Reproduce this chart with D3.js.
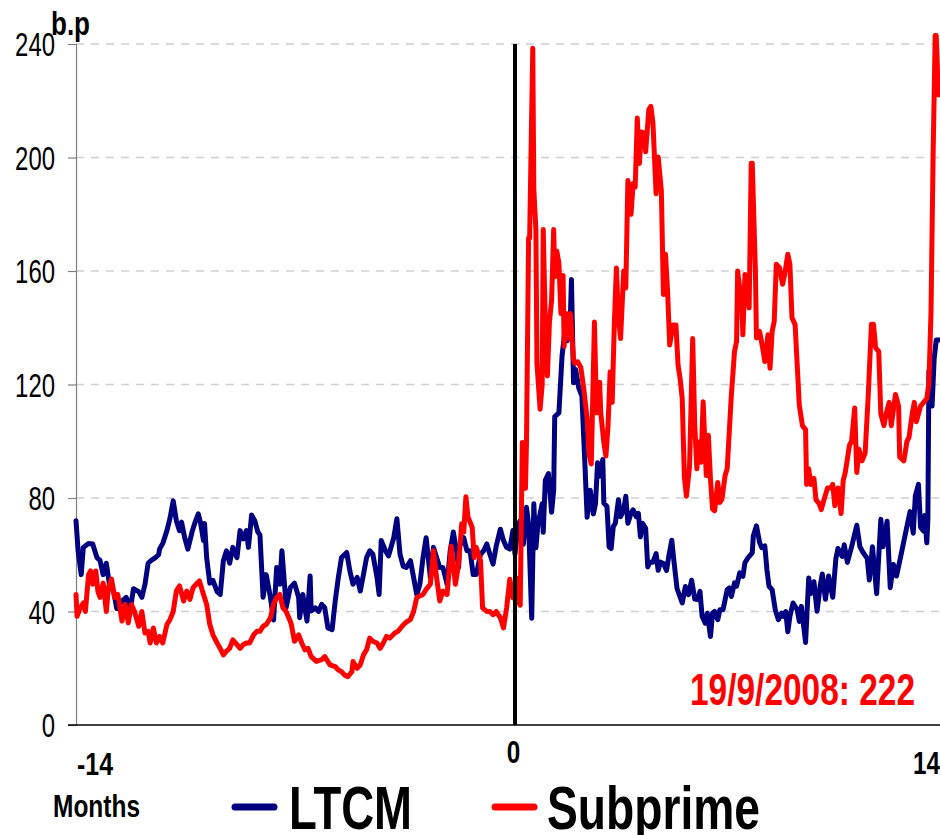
<!DOCTYPE html>
<html>
<head>
<meta charset="utf-8">
<script src="https://cdn.jsdelivr.net/npm/d3@7"></script>
<style>
  html, body { margin: 0; padding: 0; background: #fff; }
  svg { display: block; }
  text { font-family: "Liberation Sans", Arial, "DejaVu Sans", sans-serif; }
</style>
</head>
<body>
<svg id="chart" width="940" height="835"></svg>
<script>
// ---- data (days relative to event, 30-day months) ----
const xTickMonths = [-14, 0, 14];
const yTicks = [0, 40, 80, 120, 160, 200, 240];
const seriesNames = ["LTCM", "Subprime"];

const ltcmDays = [-420,-418,-415,-413,-408,-404,-400,-397,-394,-391,-388,-384,-381,-376,-372,-368,-365,-360,-357,-354,-351,-348,-344,-341,-340,-337,-333,-330,-327,-324,-321,-319,-316,-313,-309,-306,-303,-301,-298,-297,-295,-292,-289,-285,-282,-279,-276,-273,-270,-266,-263,-260,-257,-255,-252,-249,-246,-244,-241,-238,-234,-231,-228,-225,-223,-220,-219,-215,-211,-207,-206,-203,-199,-196,-195,-191,-188,-185,-182,-179,-175,-172,-169,-166,-161,-158,-155,-151,-148,-145,-142,-139,-136,-132,-130,-128,-124,-121,-116,-113,-110,-107,-104,-100,-97,-94,-91,-88,-85,-81,-78,-75,-72,-69,-65,-62,-59,-56,-54,-53,-49,-46,-43,-40,-37,-33,-30,-27,-24,-21,-18,-14,-11,-8,-5,-2,0,3,5,8,11,13,16,18,20,22,26,27,29,32,35,37,38,42,45,48,50,53,54,56,58,61,64,67,69,72,75,77,79,81,84,85,88,90,92,94,96,99,101,104,106,108,111,113,116,118,120,122,125,127,129,132,135,137,139,142,145,147,150,152,155,160,163,166,169,172,175,177,179,182,184,187,189,191,194,196,199,203,205,207,210,212,215,218,220,223,227,228,231,234,236,239,241,243,246,249,252,255,257,259,261,263,266,270,272,274,278,281,283,286,289,292,294,297,300,304,307,309,313,315,318,322,327,330,333,337,339,342,346,350,352,356,359,362,365,369,374,378,381,383,386,388,391,392,394,395,396,399,401,403,406];
const ltcmValues = [72,61.4,53,62.6,64,63.8,59,58,53,57,49.6,47,41,43.7,45,41,48,47,45,49.6,57,58,59,60,62,64,68.5,73,79,72,68.5,71.5,66,62,68,71.5,74.4,71.5,65,71,59,50,51,47,46,58,61.4,57,62.6,59,68.5,65.6,68.5,62.6,74,72,68,67,45,53,45,37,55.5,49.6,61.4,47,41.3,48.4,50,45,37.8,46,36.6,52.5,40.2,41.3,40,42.5,41.3,34.2,33.6,43.7,52,59,60.8,54.3,49.6,52,47.2,53,59,61.4,60.2,52,46,65,61.4,59.6,66,72.7,60.2,56,55.5,57.9,52,46,49.6,59,66,52,62.6,59,55.5,55.5,49.6,61.4,68,61.4,55.5,63,66,61.4,61.4,53,53,60.2,61.4,63.8,60.2,56.7,63,69,65,62.6,62,68.5,60.2,70.8,72,63.7,76.7,70.8,37.6,78,62.5,70.8,78,67.9,86.2,88.6,75,82.7,108.7,110,130,139.6,135.4,144.3,157,120.6,125.3,118.8,115.9,91,73.2,82.7,74.4,78,92.4,87.7,93.6,78.2,77,62.8,62.2,69.9,71.1,79.4,73.4,75.8,80.6,71.1,74.6,75.8,73.4,74.6,66.3,71.1,69.3,55.7,57.4,57.4,60.4,54.5,57.4,56.9,54.5,59.2,65.1,58,48.1,43,48.8,45.9,51,44.4,44.2,47.1,38.3,35.9,39.4,31.2,39.4,40,37.1,40.6,40.6,47.7,48.3,45.3,50.1,48.9,53.6,52.4,57.2,59,60.7,66.6,70.2,64.3,62.5,63.1,54.8,48.9,47.7,40.6,37.1,39.4,38.3,40,32.9,38.3,43,40.6,36.5,41.8,29.1,51.8,46.3,50.5,40.1,49.1,53.2,44.3,52.5,45,58.7,62.2,59.4,63.5,57.3,62.8,70.4,62.8,60.8,58.7,51.1,62.8,46.3,72.5,62.8,71.8,48.4,56.6,52.5,59.4,68.3,75.2,67.6,80.7,84.8,69.7,68.3,73.8,64.2,72.5,124.8,112.4,128.9,135.7,135.7];

const subDays = [-420,-419,-416,-413,-411,-408,-406,-404,-401,-399,-397,-394,-391,-389,-386,-383,-380,-376,-373,-370,-367,-364,-360,-357,-354,-351,-349,-346,-343,-340,-337,-333,-330,-327,-324,-321,-317,-314,-311,-308,-305,-302,-298,-295,-292,-289,-285,-282,-279,-276,-273,-270,-266,-263,-260,-257,-254,-250,-247,-244,-241,-238,-234,-231,-228,-225,-222,-219,-215,-214,-211,-207,-204,-201,-198,-195,-190,-185,-182,-177,-172,-169,-166,-163,-160,-156,-155,-151,-148,-145,-142,-139,-136,-132,-129,-126,-123,-120,-115,-112,-108,-105,-100,-97,-94,-91,-88,-85,-81,-78,-75,-72,-69,-65,-61,-57,-54,-51,-49,-47,-45,-41,-39,-37,-33,-31,-27,-24,-21,-18,-14,-11,-8,-5,-2,1,3,5,7,10,11,13,14,17,18,20,21,24,26,27,29,31,33,35,37,38,40,42,44,46,47,49,51,53,56,57,60,63,66,69,71,73,76,78,81,82,85,87,89,91,93,95,97,99,101,104,106,108,111,113,115,117,119,121,124,125,128,130,132,135,137,140,142,144,146,148,151,154,156,158,160,162,164,167,170,172,174,176,178,180,183,185,187,189,191,194,196,198,201,203,205,207,210,212,213,215,217,218,220,222,224,226,227,230,231,234,237,239,242,244,246,248,250,253,256,258,261,263,265,268,270,272,275,278,279,281,283,286,288,291,293,295,299,302,304,306,309,312,314,316,318,320,322,325,327,329,332,335,338,339,341,343,345,348,350,353,355,358,360,364,367,368,372,375,377,380,382,384,388,391,394,396,398,400,402,403,405];
const subValues = [46,38.3,41.3,43,40,53,54.3,49.6,54.3,47,45,50,40,48.4,51.4,44.9,46,36.6,42.5,36,42.5,40,34.8,40,32.4,33,28.9,34.2,28.9,31.2,28.9,35.4,37.2,40,47.2,49,43.7,47.2,44.3,48.4,49.6,50.8,46,42.5,35.4,31.8,28.9,27,24.7,26,27,30,28.3,27,28.3,28.9,28.9,31.8,33,33,34.8,35.4,37.8,42.5,44.9,46,41.3,40,36.6,35.4,29.5,31.8,28.9,26.5,27,24.1,22.4,23,24.1,21.2,20.6,19.4,18.8,17.6,17,18.8,22.4,20,21.2,24.7,26.5,30.6,29.5,28.9,27,28.9,31.2,30.6,32.4,33,34.8,36,37.2,40,44.9,45.5,46,47.8,49.6,61.4,52,43.7,47.2,46,63,49.6,56.7,70.9,68,80.4,73.3,69.7,59,62.6,57.9,41.3,40,40,38.9,40,37.8,34.2,41.3,51.4,44.8,51.9,43.6,42.2,99.6,83.4,99.6,171.6,171.6,238.5,189,174.6,127.5,111.3,120,174.6,142.2,123,142.2,149.6,174.6,158,167,162.8,145,158.4,133.4,145,136.3,145,129,127.5,128,126,118,108,95,92,142,110,120.8,110.2,99.5,94.8,105.4,124.4,113.7,141,161.1,143.4,136.2,160,154,191.9,180,190.8,189.6,213.9,197.9,209,208.5,202,216.8,218,212.1,187.2,200.2,188.4,151.7,165.9,152.8,133.9,141,141,126.8,122,114.9,87.7,80.6,91.2,136.2,105.4,90.3,99.7,92.6,113.9,87.9,102.1,86.7,76.1,75.5,85.5,78.4,79.6,87.9,90.3,103.3,116.3,131.6,135.2,160,154.1,148.2,137.5,158.8,154.1,147,198,198,160,136.4,138.7,132.8,128.1,137.5,125.7,138.7,142.3,162.4,161.2,155.3,158.8,165.9,162.4,143.5,141.1,126.9,112.7,105.5,104.1,84.8,90.3,84.8,86.9,79.3,78,75.9,78.6,83.5,83.5,84.8,77.3,83.5,74.5,86.2,89,93.8,98.6,100,111.7,89,97.2,93.1,95.8,116.5,124.7,141.2,141.2,133,131.6,109.6,105.5,109.6,113.7,105.5,116.5,112.4,94.5,93.1,100,101.4,109.6,113.7,106.9,112.4,113.7,115.1,120.6,145.4,200.4,243,243,222];

const annotation = "19/9/2008: 222";
const yUnit = "b.p";
const xUnit = "Months";

// ---- layout ----
const W = 940, H = 835;
const svg = d3.select("#chart");
svg.append("rect").attr("width", W).attr("height", H).attr("fill", "#fff");

const x = d3.scaleLinear().domain([-420, 420]).range([76, 954]);
const y = d3.scaleLinear().domain([0, 240]).range([725, 44]);
const x0 = x(-420), xR = W;

const colors = { LTCM: "#000080", Subprime: "#ff0000" };

function label(g, px, py, str, o) {
  const t = g.append("text")
    .attr("x", px).attr("y", py)
    .attr("font-size", o.size)
    .attr("font-weight", o.weight || "normal")
    .attr("text-anchor", o.anchor || "start")
    .attr("fill", o.fill || "#000")
    .text(str);
  if (o.width) t.attr("textLength", o.width).attr("lengthAdjust", "spacingAndGlyphs");
  return t;
}

// gridlines
const grid = svg.append("g");
grid.selectAll("line").data(yTicks.filter(d => d > 0)).join("line")
  .attr("x1", x0).attr("x2", xR)
  .attr("y1", d => y(d)).attr("y2", d => y(d))
  .attr("stroke", "#cfcfcf").attr("stroke-width", 1.5)
  .attr("stroke-dasharray", "8,7");

// left axis
const yAxis = d3.axisLeft(y).tickValues(yTicks).tickSize(8).tickFormat("");
const ya = svg.append("g").attr("transform", `translate(${x0},0)`).call(yAxis);
ya.select(".domain").attr("stroke", "#808080").attr("stroke-width", 1.2);
ya.selectAll(".tick line").attr("stroke", "#808080").attr("stroke-width", 1.2);

// y tick labels
const yl = svg.append("g");
yTicks.forEach(v => {
  const s = String(v);
  label(yl, x0 - 21, y(v) + 12, s, { size: 33, anchor: "end", width: 13.3 * s.length });
});

// series
const line = d3.line().x(d => x(d[0])).y(d => y(d[1]));
const ltcm = ltcmDays.map((d, i) => [d, ltcmValues[i]]);
const sub = subDays.map((d, i) => [d, subValues[i]]);

svg.append("path").datum(ltcm).attr("d", line)
  .attr("fill", "none").attr("stroke", colors.LTCM).attr("stroke-width", 5)
  .attr("stroke-linejoin", "round").attr("stroke-linecap", "round");
svg.append("path").datum(sub).attr("d", line)
  .attr("fill", "none").attr("stroke", colors.Subprime).attr("stroke-width", 5)
  .attr("stroke-linejoin", "round").attr("stroke-linecap", "round");

// x axis (baseline)
svg.append("line").attr("x1", x0 - 8).attr("x2", xR)
  .attr("y1", y(0)).attr("y2", y(0))
  .attr("stroke", "#000").attr("stroke-width", 1.5);

// event line at 0
svg.append("line").attr("x1", x(0)).attr("x2", x(0))
  .attr("y1", y(240)).attr("y2", y(0))
  .attr("stroke", "#000").attr("stroke-width", 4);

// x tick labels
const xl = svg.append("g");
label(xl, x(xTickMonths[0] * 30) + 1, 775, String(xTickMonths[0]), { size: 32, weight: "bold", width: 36 });
label(xl, x(xTickMonths[1] * 30) - 1.5, 763, String(xTickMonths[1]), { size: 32, weight: "bold", anchor: "middle", width: 13.5 });
label(xl, Math.min(x(xTickMonths[2] * 30), xR), 774, String(xTickMonths[2]), { size: 32, weight: "bold", anchor: "end", width: 27 });

// axis titles
label(svg, 51, 35, yUnit, { size: 34, weight: "bold", width: 39 });
label(svg, 53, 817, xUnit, { size: 31, weight: "bold", width: 87 });

// annotation
label(svg, 690, 705, annotation, { size: 45, weight: "bold", fill: colors.Subprime, width: 225 });

// legend
const lg = svg.append("g");
const legendItems = [
  { name: seriesNames[0], lx: 232, tx: 289, tw: 123 },
  { name: seriesNames[1], lx: 492, tx: 547, tw: 213 }
];
legendItems.forEach(it => {
  lg.append("line").attr("x1", it.lx + 3).attr("x2", it.lx + 42)
    .attr("y1", 807).attr("y2", 807)
    .attr("stroke", colors[it.name]).attr("stroke-width", 7).attr("stroke-linecap", "round");
  label(lg, it.tx, 829, it.name, { size: 62, weight: "bold", width: it.tw });
});
</script>
</body>
</html>
